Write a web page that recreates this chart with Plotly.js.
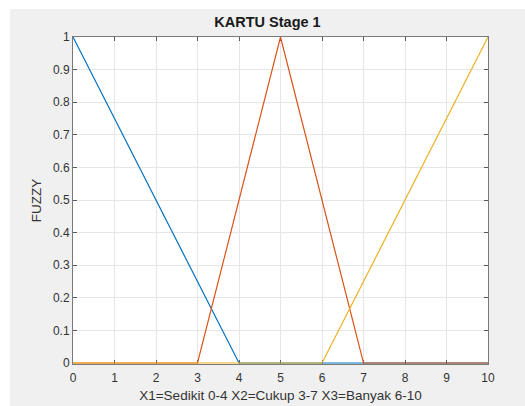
<!DOCTYPE html>
<html>
<head>
<meta charset="utf-8">
<script src="https://cdn.plot.ly/plotly-3.0.1.min.js"></script>
<style>
html,body{margin:0;padding:0;background:#ffffff;}
#chart{position:absolute;left:10px;top:9px;width:515px;height:397px;}
</style>
</head>
<body>
<div id="chart"></div>
<script>
const xSedikit = [0, 4, 10];
const ySedikit = [1, 0, 0];
const xCukup = [0, 3, 5, 7, 10];
const yCukup = [0, 0, 1, 0, 0];
const xBanyak = [0, 6, 10];
const yBanyak = [0, 0, 1];
const xTicks = [0,1,2,3,4,5,6,7,8,9,10];
const yTicks = [0,0.1,0.2,0.3,0.4,0.5,0.6,0.7,0.8,0.9,1];
const yTickText = ['0','0.1','0.2','0.3','0.4','0.5','0.6','0.7','0.8','0.9','1'];

const traces = [
  {x:xSedikit, y:ySedikit, mode:'lines', cliponaxis:false, line:{color:'#0072BD', width:1.2}, name:'Sedikit'},
  {x:xCukup, y:yCukup, mode:'lines', cliponaxis:false, line:{color:'#D95319', width:1.2}, name:'Cukup'},
  {x:xBanyak, y:yBanyak, mode:'lines', cliponaxis:false, line:{color:'#EDB120', width:1.2}, name:'Banyak'}
];

const FONT = 'Liberation Sans, Arial, sans-serif';
const axisCommon = {
  showline:true, linecolor:'#7a7a7a', linewidth:1, mirror:'ticks',
  ticks:'inside', ticklen:4, tickcolor:'#5a5a5a',
  showgrid:true, gridcolor:'#e6e6e6', gridwidth:1, layer:'below traces',
  zeroline:false, tickfont:{family:FONT, size:12, color:'#333333'}
};

const layout = {
  width:515, height:397,
  paper_bgcolor:'#f0f0f0', plot_bgcolor:'#ffffff',
  margin:{l:63, r:37, t:28, b:42},
  showlegend:false,
  title:{text:'<b>KARTU Stage 1</b>', font:{family:FONT, size:14.5, color:'#1a1a1a'}, x:0.5, xanchor:'center', y:1 - 13/397, yanchor:'middle', yref:'container'},
  xaxis:Object.assign({}, axisCommon, {range:[0,10], tickvals:xTicks, ticktext:xTicks.map(String), ticklabelstandoff:3,
    title:{text:'X1=Sedikit 0-4 X2=Cukup 3-7 X3=Banyak 6-10', font:{family:FONT, size:13.5, color:'#333333'}, standoff:6}}),
  yaxis:Object.assign({}, axisCommon, {range:[-0.003,1], tickvals:yTicks, ticktext:yTickText,
    title:{text:'FUZZY', font:{family:FONT, size:13.5, color:'#333333'}, standoff:8}})
};

Plotly.newPlot('chart', traces, layout, {displayModeBar:false, staticPlot:true});
</script>
</body>
</html>
